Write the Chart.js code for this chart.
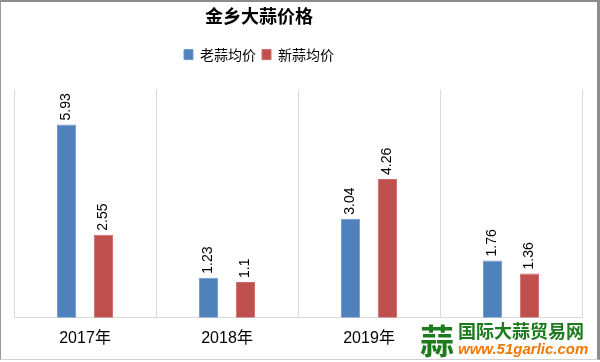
<!doctype html>
<html lang="zh-CN">
  <head>
    <meta charset="UTF-8" />
    <title>金乡大蒜价格</title>
    <style>
      html, body {
        margin: 0;
        padding: 0;
        background: #fff;
      }
      .frame {
        position: relative;
        width: 600px;
        height: 362px;
        overflow: hidden;
        font-family: "Noto Sans CJK SC", sans-serif;
      }
      .frame canvas {
        position: absolute;
        left: 0;
        top: 0;
      }
      .edge {
        position: absolute;
        left: 0;
        top: 0;
        width: 596px;
        height: 357px;
        border-top: 2px solid #8c8c8c;
        border-left: 1px solid #9a9a9a;
        border-right: 3px solid #8c8c8c;
        border-bottom: 1px solid #d0d0d0;
        pointer-events: none;
      }
      /* marca d'água */
      .logo {
        position: absolute;
        left: 418px;
        top: 318px;
        width: 182px;
        height: 40px;
        background: #fff;
      }
      .logo .mark {
        position: absolute;
        left: 2px;
        top: -3px;
        font-size: 34px;
        font-weight: bold;
        color: #1e7a1e;
      }
      .logo .name {
        position: absolute;
        left: 40px;
        top: 2px;
        font-size: 18px;
        font-weight: bold;
        color: #1e7a1e;
        line-height: 20px;
        white-space: nowrap;
      }
      .logo .url {
        position: absolute;
        left: 40px;
        top: 23px;
        font-family: "Liberation Sans", sans-serif;
        font-size: 15px;
        font-weight: bold;
        font-style: italic;
        color: #f07800;
        line-height: 16px;
        white-space: nowrap;
      }
    </style>
  </head>
  <body>
    <div class="frame">
      <canvas id="myChart" width="600" height="362"></canvas>
      <div class="logo">
        <div class="mark">蒜</div>
        <div class="name">国际大蒜贸易网</div>
        <div class="url">www.51garlic.com</div>
      </div>
      <div class="edge"></div>
    </div>

    <script src="https://cdn.jsdelivr.net/npm/chart.js"></script>
    <script>
      // dados
      var anos = ["2017年", "2018年", "2019年", "2020年"];
      var laoSuan = [5.93, 1.23, 3.04, 1.76];   // 老蒜均价
      var xinSuan = [2.55, 1.1, 4.26, 1.36];    // 新蒜均价
      var nomes = ["老蒜均价", "新蒜均价"];

      var azul = "#4F81BD";
      var vermelho = "#C0504D";

      // rótulos verticais em cima das barras
      var rotulos = {
        id: "rotulos",
        afterDatasetsDraw: function (chart) {
          var ctx = chart.ctx;
          ctx.save();
          ctx.font = "14px 'Liberation Sans', Arial, sans-serif";
          ctx.fillStyle = "#000";
          ctx.textAlign = "left";
          ctx.textBaseline = "middle";
          chart.data.datasets.forEach(function (ds, i) {
            var meta = chart.getDatasetMeta(i);
            meta.data.forEach(function (bar, j) {
              ctx.save();
              ctx.translate(bar.x, bar.y - 4);
              ctx.rotate(-Math.PI / 2);
              ctx.fillText(String(ds.data[j]), 0, 0);
              ctx.restore();
            });
          });
          ctx.restore();
        }
      };

      // espaço extra abaixo da legenda e título/legenda deslocados para a esquerda
      var ajuste = {
        id: "ajuste",
        beforeLayout: function (chart) {
          var lg = chart.legend;
          if (lg && !lg._ajustado) {
            var fitOriginal = lg.fit;
            lg.fit = function () {
              fitOriginal.call(this);
              this.height += 18;
            };
            lg._ajustado = true;
          }
        },
        beforeDraw: function (chart) {
          chart.titleBlock.right = 504;
          chart.legend.right = 504;
        }
      };

      var ctx = document.getElementById("myChart").getContext("2d");
      var myChart = new Chart(ctx, {
        type: "bar",
        data: {
          labels: anos,
          datasets: [
            {
              label: nomes[0],
              data: laoSuan,
              backgroundColor: azul,
              borderColor: "#6f99cc",
              borderWidth: 1,
              categoryPercentage: 0.52,
              barPercentage: 0.52
            },
            {
              label: nomes[1],
              data: xinSuan,
              backgroundColor: vermelho,
              borderColor: "#d06a67",
              borderWidth: 1,
              categoryPercentage: 0.52,
              barPercentage: 0.52
            }
          ]
        },
        options: {
          responsive: false,
          animation: false,
          layout: {
            padding: { left: 14, right: 18, top: 0, bottom: 3 }
          },
          plugins: {
            title: {
              display: true,
              text: "金乡大蒜价格",
              color: "#000",
              font: { family: "'Noto Sans CJK SC', sans-serif", size: 18, weight: "bold" },
              padding: { top: 5, bottom: 15 }
            },
            legend: {
              display: true,
              labels: {
                color: "#000",
                boxWidth: 9,
                boxHeight: 10,
                padding: 6,
                font: { family: "'Noto Sans CJK SC', sans-serif", size: 14 }
              }
            },
            tooltip: { enabled: false }
          },
          scales: {
            x: {
              grid: {
                display: true,
                offset: true,
                color: "#d9d9d9",
                drawTicks: false
              },
              border: { display: true, color: "#d9d9d9" },
              ticks: {
                color: "#000",
                padding: 11,
                font: { family: "'Liberation Sans', Arial, sans-serif", size: 16 }
              }
            },
            y: {
              display: false,
              min: 0,
              max: 7
            }
          }
        },
        plugins: [ajuste, rotulos]
      });
    </script>
  </body>
</html>
